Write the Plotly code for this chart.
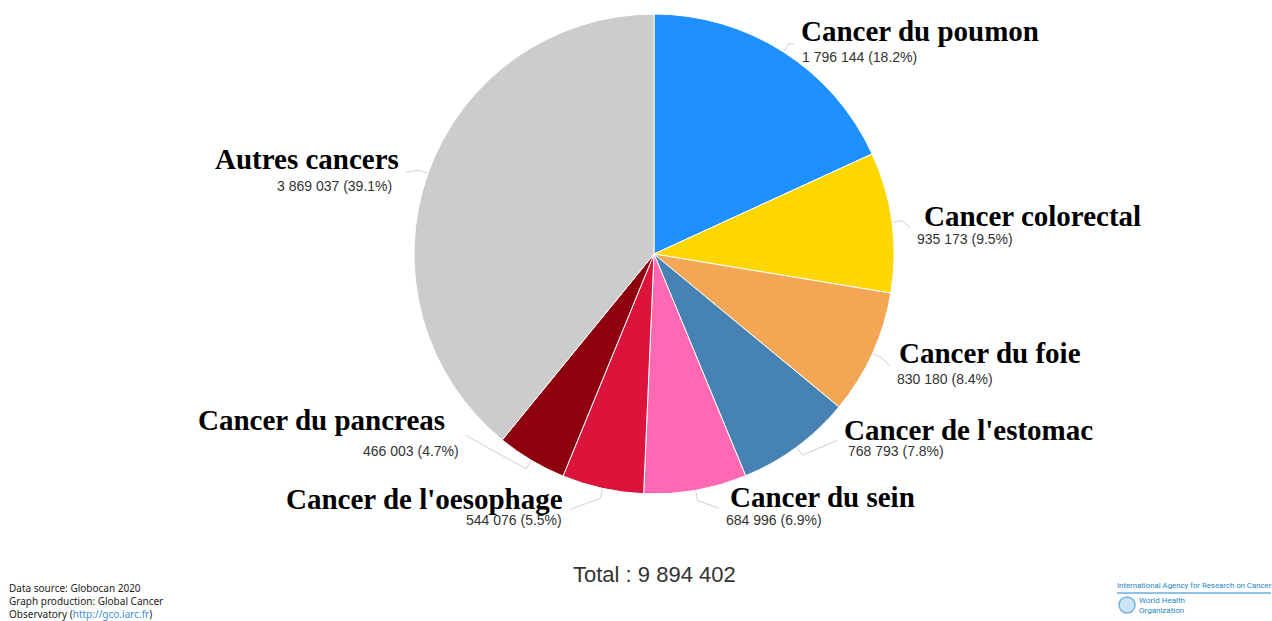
import math
import plotly.graph_objects as go

# ---- data ----
labels = ["Cancer du poumon", "Cancer colorectal", "Cancer du foie", "Cancer de l'estomac",
          "Cancer du sein", "Cancer de l'oesophage", "Cancer du pancreas", "Autres cancers"]
values = [1796144, 935173, 830180, 768793, 684996, 544076, 466003, 3869037]
value_text = ["1 796 144 (18.2%)", "935 173 (9.5%)", "830 180 (8.4%)", "768 793 (7.8%)",
              "684 996 (6.9%)", "544 076 (5.5%)", "466 003 (4.7%)", "3 869 037 (39.1%)"]
total_text = "Total : 9 894 402"

# ---- styles / layout ----
colors = ["#1E90FF", "#FFD700", "#F3A654", "#4682B4", "#FF69B4", "#DC143C", "#8F000F", "#CCCCCC"]
W, H = 1272, 621
CX, CY, R = 654, 254, 240
# label layout (pixel): name anchor x, name y, value anchor x, value y, side
name_pos = [(802, 31), (925, 216), (900, 353), (845, 430), (731, 497), (562, 499), (444, 420), (398, 159)]
val_pos = [(803, 57), (918, 239), (898, 379), (849, 451), (727, 520), (561, 520), (458, 451), (391, 186)]
sides = ["right", "right", "right", "right", "right", "left", "left", "left"]


def px(x):
    return x / W


def py(y):
    return 1 - y / H


fig = go.Figure()
fig.add_trace(go.Pie(
    labels=labels, values=values, sort=False, direction="clockwise", rotation=0,
    marker=dict(colors=colors, line=dict(color="white", width=1)),
    textinfo="none", hoverinfo="label+value+percent", showlegend=False,
    domain=dict(x=[px(CX - R), px(CX + R)], y=[py(CY + R), py(CY - R)]),
))

# connectors computed from slice mid-angles
total = sum(values)
cum = 0
for i, v in enumerate(values):
    mid = (cum + v / 2) / total * 2 * math.pi
    cum += v
    sx, sy = math.sin(mid), -math.cos(mid)
    p0 = (CX + (R + 1) * sx, CY + (R + 1) * sy)
    p1 = (CX + (R + 10) * sx, CY + (R + 10) * sy)
    midy = (name_pos[i][1] + val_pos[i][1]) / 2
    if sides[i] == "right":
        ex = min(name_pos[i][0], val_pos[i][0]) - 8
    else:
        ex = max(name_pos[i][0], val_pos[i][0]) + 8
    fig.add_trace(go.Scatter(
        x=[p0[0], p1[0], ex], y=[p0[1], p1[1], midy], mode="lines",
        line=dict(color="#d0d0d0", width=1), hoverinfo="skip", showlegend=False,
        xaxis="x", yaxis="y"))

annotations = []
for i, lab in enumerate(labels):
    anchor = "left" if sides[i] == "right" else "right"
    shift = -3 if anchor == "left" else 3
    annotations.append(dict(
        x=px(name_pos[i][0]), y=py(name_pos[i][1]), xref="paper", yref="paper", xshift=shift,
        text="<b>" + lab + "</b>", showarrow=False, xanchor=anchor, yanchor="middle",
        font=dict(family="Liberation Serif, Times New Roman, serif", size=29, color="#000000")))
    annotations.append(dict(
        x=px(val_pos[i][0]), y=py(val_pos[i][1]), xref="paper", yref="paper", xshift=shift,
        text=value_text[i], showarrow=False, xanchor=anchor, yanchor="middle",
        font=dict(family="Liberation Sans, Arial, sans-serif", size=14, color="#333333")))

annotations.append(dict(
    x=px(CX), y=py(574), xref="paper", yref="paper", text=total_text, showarrow=False,
    xanchor="center", yanchor="middle",
    font=dict(family="Liberation Sans, Arial, sans-serif", size=22, color="#333333")))

annotations.append(dict(
    x=px(7), y=py(601), xref="paper", yref="paper", align="left",
    text="Data source: Globocan 2020<br>Graph production: Global Cancer<br>Observatory "
         "(<span style='color:#3d8fd6'>http://gco.iarc.fr</span>)",
    showarrow=False, xanchor="left", yanchor="middle",
    font=dict(family="Noto Sans, Open Sans, sans-serif", size=10, color="#222222")))

annotations.append(dict(
    x=px(1115), y=py(585), xref="paper", yref="paper",
    text="International Agency for Research on Cancer", showarrow=False,
    xanchor="left", yanchor="middle",
    font=dict(family="Roboto, sans-serif", size=7.8, color="#1b86c8")))
annotations.append(dict(
    x=px(1137), y=py(605), xref="paper", yref="paper", align="left",
    text="World Health<br>Organization", showarrow=False, xanchor="left", yanchor="middle",
    font=dict(family="Roboto, sans-serif", size=8, color="#1b86c8")))

shapes = [
    dict(type="line", xref="paper", yref="paper", x0=px(1117), x1=px(1271), y0=py(593), y1=py(593),
         line=dict(color="#1b86c8", width=1)),
    dict(type="circle", xref="paper", yref="paper", x0=px(1119), x1=px(1135), y0=py(613), y1=py(597),
         line=dict(color="#6fb3e0", width=1.5), fillcolor="rgba(111,179,224,0.35)"),
]

fig.update_layout(
    width=W, height=H, margin=dict(l=0, r=0, t=0, b=0),
    paper_bgcolor="white", plot_bgcolor="rgba(0,0,0,0)",
    xaxis=dict(range=[0, W], visible=False, fixedrange=True, domain=[0, 1]),
    yaxis=dict(range=[H, 0], visible=False, fixedrange=True, domain=[0, 1]),
    annotations=annotations, shapes=shapes, showlegend=False,
)

fig.write_html("out.html", config={"displayModeBar": False},
               post_script="document.body.style.margin='0';document.body.style.overflow='hidden';")
